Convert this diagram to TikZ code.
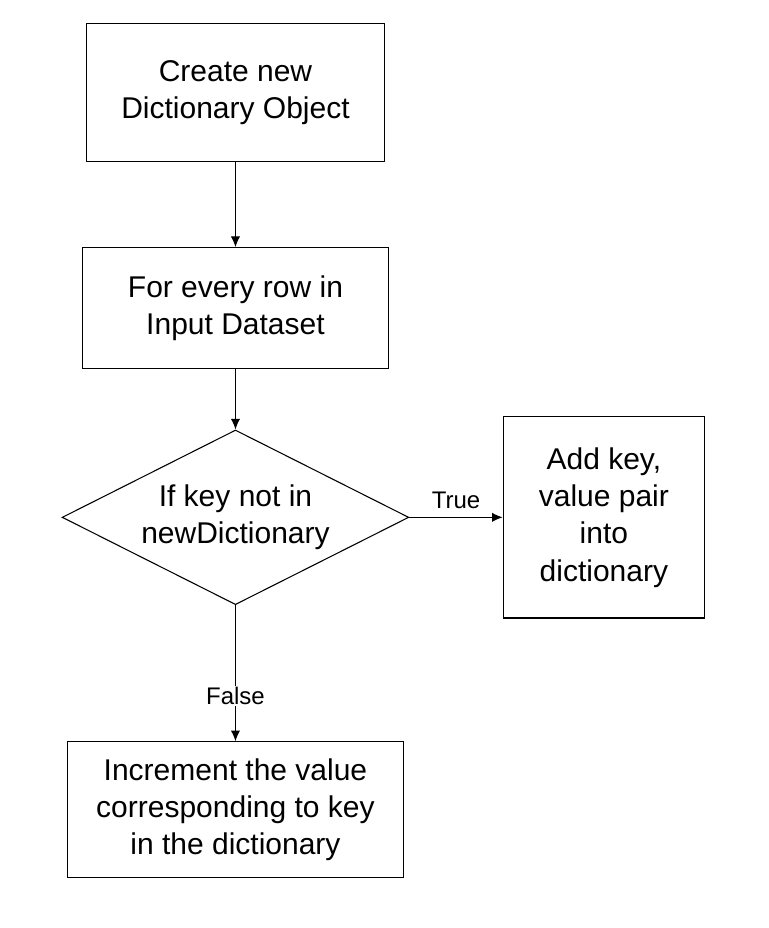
\documentclass[tikz,border=0pt]{standalone}
\usepackage{fontspec}
\setmainfont{Liberation Sans}
\usepackage{tikz}
\usetikzlibrary{positioning}
\usetikzlibrary{shapes.geometric}
\usetikzlibrary{arrows.meta}
\begin{document}
\begin{tikzpicture}[
  node distance=64pt and 70pt,
  mybox/.style={draw,rectangle,line width=0.8pt,align=center,
    font=\fontsize{22.5}{28}\selectfont},
  mydecision/.style={draw,diamond,aspect=2,inner sep=0pt,line width=0.8pt,align=center,
    minimum width=260pt,minimum height=131pt,font=\fontsize{22.5}{28}\selectfont},
  mylabel/.style={font=\fontsize{18}{20}\selectfont},
  myarrow/.style={-{Latex[length=8pt,width=7pt]},line width=0.8pt}
]

\node[mybox, minimum width=223.5pt, minimum height=104pt] (create) {Create new\\Dictionary Object};
\node[mybox, minimum width=230pt, minimum height=91pt, below=63.5pt of create] (loop) {For every row in\\Input Dataset};
\node[mydecision, below=45pt of loop] (check) {If key not in\\newDictionary};
\node[mybox, minimum width=151pt, minimum height=151pt, right=70pt of check] (add) {Add key,\\value pair\\into\\dictionary};
\node[mybox, minimum width=252pt, minimum height=102pt, below=102pt of check] (incr) {Increment the value\\corresponding to key\\in the dictionary};

\useasboundingbox (-176.6pt,69.4pt) rectangle (399.4pt,-626.6pt);

\path (create) edge[myarrow] (loop)
(loop) edge[myarrow] (check)
(check) edge[myarrow] node[mylabel, above=3pt] {True} (add)
(check) edge[myarrow] node[mylabel, pos=0.67, fill=white, inner sep=1pt] {False} (incr)
;

\end{tikzpicture}
\end{document}
